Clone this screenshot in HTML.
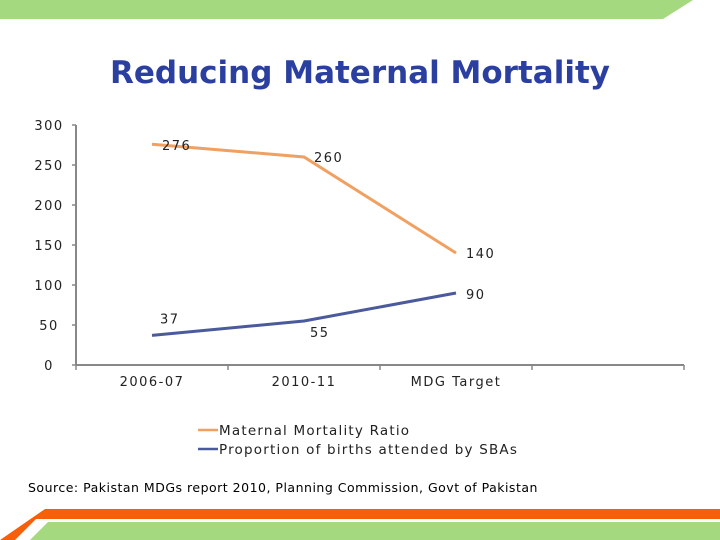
<!DOCTYPE html>
<html><head><meta charset="utf-8"><style>
body{margin:0;width:720px;height:540px;background:#fff;overflow:hidden;font-family:"DejaVu Sans","Liberation Sans",sans-serif;}
svg{position:absolute;left:0;top:0}
</style></head><body>
<svg width="720" height="540">
<polygon points="0,0 693,0 663,19 0,19" fill="#a5d97f"/>
<polygon points="45,509 720,509 720,519 36,519 15,540 0,540 0,540" fill="#f7600a"/>
<polygon points="48,522 720,522 720,540 30,540" fill="#a5d97f"/>
<text x="360" y="83" text-anchor="middle" font-family="DejaVu Sans, sans-serif" font-weight="bold" font-size="31" fill="#2a3fa0">Reducing Maternal Mortality</text>
<g id="chart"></g>
<text x="28" y="492" font-size="12.5" letter-spacing="0.5" fill="#000">Source: Pakistan MDGs report 2010, Planning Commission, Govt of Pakistan</text>
</svg>
<script>
const categories=["2006-07","2010-11","MDG Target"];
const mmr=[276,260,140];
const sba=[37,55,90];
const yTicks=[0,50,100,150,200,250,300];
const seriesNames=["Maternal Mortality Ratio","Proportion of births attended by SBAs"];
const NS="http://www.w3.org/2000/svg";
const g=document.getElementById('chart');
const x0=76,catW=152,yBase=365,yTop=125,yMax=300;
const X=i=>x0+catW*(i+0.5);
const Y=v=>yBase-(v/yMax)*(yBase-yTop);
function el(t,a,txt){const e=document.createElementNS(NS,t);for(const k in a)e.setAttribute(k,a[k]);if(txt!==undefined)e.textContent=txt;g.appendChild(e);return e;}
let e=el('line',{x1:x0,y1:yTop,x2:x0,y2:yBase,stroke:'#888','stroke-width':2});


e=el('line',{x1:x0,y1:yBase,x2:x0+catW*4,y2:yBase,stroke:'#888','stroke-width':2});


yTicks.forEach(v=>{
 el('line',{x1:x0-4,y1:Y(v),x2:x0,y2:Y(v),stroke:'#888','stroke-width':1.5});
 const t=el('text',{x:49,y:Y(v)+5,'text-anchor':'middle','font-size':13,'letter-spacing':1.5,fill:'#222'},v);
 
 
});
for(let i=0;i<=4;i++){el('line',{x1:x0+catW*i,y1:yBase,x2:x0+catW*i,y2:yBase+5,stroke:'#888','stroke-width':1.5});}
categories.forEach((c,i)=>{
 const t=el('text',{x:X(i),y:386,'text-anchor':'middle','font-size':13,'letter-spacing':1.5,fill:'#222'},c);
 
 
});
function series(vals,color,name,offs){
 const p=el('polyline',{points:vals.map((v,i)=>X(i)+','+Y(v)).join(' '),fill:'none',stroke:color,'stroke-width':3});
 
 
 vals.forEach((v,i)=>{
  const t=el('text',{x:X(i)+offs[i][0],y:Y(v)+offs[i][1],'font-size':13,'letter-spacing':1.5,fill:'#222'},v);
  
  
 });
}
series(mmr,'#f0a060','mmr-line',[[10,6],[10,5],[10,5]]);
series(sba,'#4a5a9c','sba-line',[[8,-12],[6,16],[10,6]]);
[["#f0a060",seriesNames[0],435],["#4a5a9c",seriesNames[1],454]].forEach(([c,n,y])=>{
 const l=el('line',{x1:198,y1:y-5,x2:218,y2:y-5,stroke:c,'stroke-width':2.5});
 
 
 const t=el('text',{x:219,y:y,'font-size':13.5,'letter-spacing':1.2,fill:'#222'},n);
 
 
});
</script>
</body></html>
